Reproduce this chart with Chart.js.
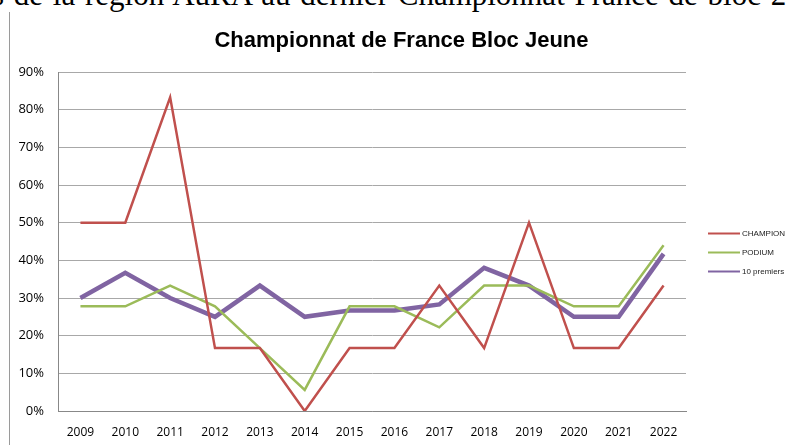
<!DOCTYPE html>
<html>
<head>
<meta charset="utf-8">
<script src="https://cdn.jsdelivr.net/npm/chart.js@4.4.0/dist/chart.umd.min.js"></script>
<style>
  html, body { margin: 0; padding: 0; background: #fff; }
  #wrap { position: relative; width: 787px; height: 445px; overflow: hidden; }
  #doc { position: absolute; left: -8px; top: -25px; white-space: nowrap; word-spacing: 2px;
         font-family: "Liberation Serif", "DejaVu Serif", serif; font-size: 31px; color: #000; line-height: 40px; }
  #margin { position: absolute; left: 9px; top: 12px; width: 1px; height: 433px; background: #9a9a9a; }
  #c { position: absolute; left: 0; top: 0; }
</style>
</head>
<body>
<div id="wrap">
  <div id="doc">s de la région AuRA au dernier Championnat France de bloc 2022</div>
  <div id="margin"></div>
  <canvas id="c" width="787" height="445"></canvas>
</div>
<script>
const categories = ["2009","2010","2011","2012","2013","2014","2015","2016","2017","2018","2019","2020","2021","2022"];
const champion   = [50, 50, 83.3, 16.7, 16.7, 0, 16.7, 16.7, 33.3, 16.7, 50, 16.7, 16.7, 33.3];
const podium     = [27.8, 27.8, 33.3, 27.8, 16.7, 5.6, 27.8, 27.8, 22.2, 33.3, 33.3, 27.8, 27.8, 44];
const dixPremiers = [30, 36.7, 30, 25, 33.3, 25, 26.7, 26.7, 28.3, 38, 33.3, 25, 25, 41.7];
const seriesNames = ["CHAMPION", "PODIUM", "10 premiers"];
const chartTitle = "Championnat de France Bloc Jeune";

const titlePlugin = {
  id: 'centerTitle',
  afterDraw(chart) {
    const ctx = chart.ctx;
    ctx.save();
    ctx.font = 'bold 22px "Liberation Sans", Arial, sans-serif';
    ctx.fillStyle = '#000';
    ctx.textAlign = 'center';
    ctx.textBaseline = 'alphabetic';
    ctx.fillText(chartTitle, chart.width / 2 + 8, 47);
    ctx.restore();
  }
};

const legendPlugin = {
  id: 'sideLegend',
  afterDraw(chart) {
    const ctx = chart.ctx;
    const ca = chart.chartArea;
    const x0 = ca.right + 22;
    const yMid = (ca.top + ca.bottom) / 2 + 11;
    const gap = 19;
    ctx.save();
    ctx.font = '8px "Liberation Sans", Arial, sans-serif';
    ctx.textBaseline = 'middle';
    chart.data.datasets.forEach((ds, i) => {
      const y = yMid + (i - 1) * gap;
      ctx.strokeStyle = ds.borderColor;
      ctx.lineWidth = 2;
      ctx.beginPath();
      ctx.moveTo(x0, y);
      ctx.lineTo(x0 + 32, y);
      ctx.stroke();
      ctx.fillStyle = '#222';
      ctx.fillText(ds.label, x0 + 34, y + 0.5);
    });
    ctx.restore();
  }
};

new Chart(document.getElementById('c'), {
  type: 'line',
  data: {
    labels: categories,
    datasets: [
      { label: seriesNames[0], data: champion, borderColor: '#C0504D', borderWidth: 2.5 },
      { label: seriesNames[1], data: podium, borderColor: '#9BBB59', borderWidth: 2.5 },
      { label: seriesNames[2], data: dixPremiers, borderColor: '#8064A2', borderWidth: 4.5 }
    ]
  },
  options: {
    responsive: false,
    animation: false,
    devicePixelRatio: 1,
    elements: { point: { radius: 0 }, line: { tension: 0, borderJoinStyle: 'miter' } },
    layout: { padding: { left: 0, right: 101, top: 72, bottom: 0 } },
    plugins: {
      legend: { display: false },
      tooltip: { enabled: false },
      title: { display: false }
    },
    scales: {
      x: {
        offset: true,
        grid: { display: false, drawTicks: false },
        border: { color: '#888', width: 1 },
        ticks: { color: '#000', padding: 14, font: { family: '"Open Sans", sans-serif', size: 12 }, maxRotation: 0, autoSkip: false },
        afterFit(s) { s.height = 34; }
      },
      y: {
        min: 0, max: 90,
        grid: { color: '#a8a8a8', drawTicks: false, lineWidth: 1 },
        border: { color: '#888', width: 1 },
        ticks: { stepSize: 10, color: '#000', padding: 14, font: { family: '"Open Sans", sans-serif', size: 13 }, callback: v => v + '%' },
        afterFit(s) { s.width = 58; }
      }
    }
  },
  plugins: [titlePlugin, legendPlugin]
});
</script>
</body>
</html>
